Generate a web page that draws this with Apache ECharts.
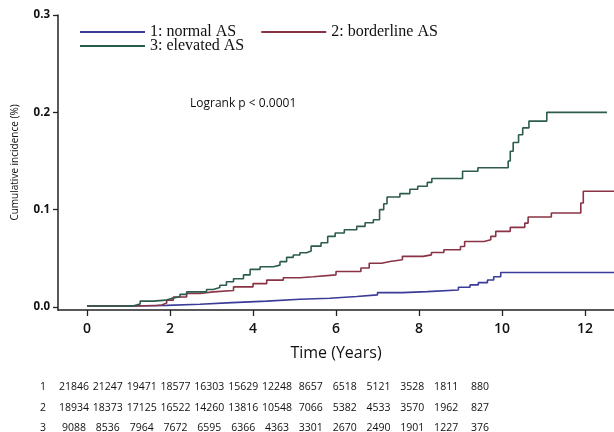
<!DOCTYPE html>
<html><head><meta charset="utf-8">
<script src="https://cdn.jsdelivr.net/npm/echarts@6/dist/echarts.min.js"></script>
<style>html,body{margin:0;padding:0;background:#fff}#c{width:614px;height:432px}</style>
</head><body><div id="c"></div>
<script>
// ---- data ----
const seriesNames = ['1: normal AS', '2: borderline AS', '3: elevated AS'];
const normalAS = [[0,0.001],[1.1,0.0017],[1.92,0.0028],[2.72,0.0045],[3.5,0.006],[4.33,0.008],[5.13,0.009],[5.85,0.0107],[6.5,0.0124],[7.0,0.0148],[7.6,0.0158],[8.2,0.0175],[8.95,0.0203],[9.23,0.0227],[9.43,0.025],[9.65,0.0278],[9.8,0.031],[9.97,0.0354],[12.7,0.0354]];
const borderlineAS = [[0,0.001],[1.0,0.0015],[1.68,0.002],[1.8,0.004],[1.92,0.007],[2.08,0.0103],[2.4,0.0138],[2.72,0.0155],[3.04,0.017],[3.53,0.0207],[4.0,0.024],[4.33,0.0276],[4.73,0.030],[5.13,0.031],[5.45,0.033],[6.0,0.0364],[6.6,0.040],[6.8,0.045],[7.1,0.0467],[7.3,0.0485],[7.6,0.052],[8.1,0.0535],[8.3,0.056],[8.6,0.0588],[9.0,0.0622],[9.1,0.0673],[9.57,0.069],[9.73,0.0725],[9.85,0.0777],[10.2,0.0818],[10.55,0.0862],[10.63,0.0924],[11.19,0.0966],[11.9,0.1069],[11.96,0.1189],[12.7,0.1189]];
const elevatedAS = [[0,0.001],[1.1,0.003],[1.28,0.006],[1.6,0.007],[1.9,0.009],[2.05,0.0105],[2.24,0.013],[2.4,0.0155],[2.88,0.018],[3.04,0.020],[3.2,0.0224],[3.36,0.026],[3.53,0.029],[3.77,0.033],[3.93,0.0386],[4.17,0.0414],[4.49,0.043],[4.65,0.0466],[4.81,0.051],[4.97,0.0534],[5.13,0.0557],[5.29,0.0574],[5.4,0.0625],[5.64,0.066],[5.8,0.0725],[5.98,0.076],[6.2,0.0794],[6.5,0.0828],[6.7,0.0865],[6.9,0.0897],[7.05,0.1],[7.15,0.106],[7.23,0.113],[7.54,0.1165],[7.78,0.121],[7.97,0.124],[8.2,0.128],[8.31,0.132],[9.05,0.1395],[9.42,0.143],[10.15,0.15],[10.2,0.16],[10.27,0.169],[10.4,0.177],[10.5,0.184],[10.65,0.191],[11.08,0.2],[12.53,0.2]];
const xTicks = [0,2,4,6,8,10,12];
const yTicks = [0,0.1,0.2,0.3];
const riskRowLabels = ['1','2','3'];
const riskNormal = [21846,21247,19471,18577,16303,15629,12248,8657,6518,5121,3528,1811,880];
const riskBorderline = [18934,18373,17125,16522,14260,13816,10548,7066,5382,4533,3570,1962,827];
const riskElevated = [9088,8536,7964,7672,6595,6366,4363,3301,2670,2490,1901,1227,376];
const annotation = 'Logrank p < 0.0001';

const colors = ['#3b3b98', '#8a3344', '#2d5c4e'];
const sans = 'Open Sans';
const chart = echarts.init(document.getElementById('c'));

const riskRows = [riskNormal, riskBorderline, riskElevated];
const rowY = [387, 408, 428];
const graphics = [];
riskRows.forEach((row, r) => {
  graphics.push({type:'text', x:43, y:rowY[r], style:{text:riskRowLabels[r], fontSize:10.5, fontWeight:500, fontFamily:sans, fill:'#111', align:'center', verticalAlign:'middle'}});
  row.forEach((v, i) => {
    graphics.push({type:'text', x:74 + i*33.83, y:rowY[r], style:{text:String(v), fontSize:10.5, fontWeight:500, fontFamily:sans, fill:'#111', align:'center', verticalAlign:'middle'}});
  });
});
graphics.push({type:'text', x:190, y:104, style:{text:annotation, fontSize:12, fontFamily:sans, fill:'#111', verticalAlign:'middle'}});

const legendText = {fontFamily:'Liberation Serif', fontSize:16, color:'#111'};
chart.setOption({
  animation:false,
  backgroundColor:'#fff',
  color: colors,
  grid:{left:58, right:0, top:15, bottom:122, containLabel:false},
  legend:[
    {data:[seriesNames[0], seriesNames[1]], left:80, top:24, orient:'horizontal', icon:'rect', itemWidth:65, itemHeight:2, itemGap:25, textStyle:legendText, padding:0},
    {data:[seriesNames[2]], left:80, top:38, icon:'rect', itemWidth:65, itemHeight:2, textStyle:legendText, padding:0}
  ],
  xAxis:{type:'value', min:-0.7, max:12.7,
    name:'Time (Years)', nameLocation:'middle', nameGap:35,
    nameTextStyle:{fontFamily:sans, fontSize:16, fontWeight:500, color:'#111'},
    axisLine:{onZero:false, lineStyle:{color:'#222', width:1.5}},
    axisTick:{show:true, customValues:xTicks, length:6, lineStyle:{color:'#222', width:1.3}},
    axisLabel:{customValues:xTicks, fontFamily:sans, fontWeight:600, fontSize:14, color:'#111', margin:12},
    splitLine:{show:false}},
  yAxis:{type:'value', min:-0.0031, max:0.3,
    name:'Cumulative incidence (%)', nameLocation:'middle', nameGap:38,
    nameTextStyle:{fontFamily:sans, fontSize:10, color:'#111'},
    axisLine:{show:true, onZero:false, lineStyle:{color:'#222', width:1.5}},
    axisTick:{show:true, customValues:yTicks, length:5, lineStyle:{color:'#222', width:1.3}},
    axisLabel:{customValues:yTicks, formatter:v=>v.toFixed(1), fontFamily:sans, fontWeight:'bold', fontSize:11.5, color:'#111', margin:8},
    splitLine:{show:false}},
  series:[
    {name:seriesNames[0], type:'line', step:'end', data:normalAS, showSymbol:false, lineStyle:{width:1.6}, z:3},
    {name:seriesNames[1], type:'line', step:'end', data:borderlineAS, showSymbol:false, lineStyle:{width:1.6}, z:3},
    {name:seriesNames[2], type:'line', step:'end', data:elevatedAS, showSymbol:false, lineStyle:{width:1.6}, z:3}
  ],
  graphic: graphics
});
</script></body></html>
